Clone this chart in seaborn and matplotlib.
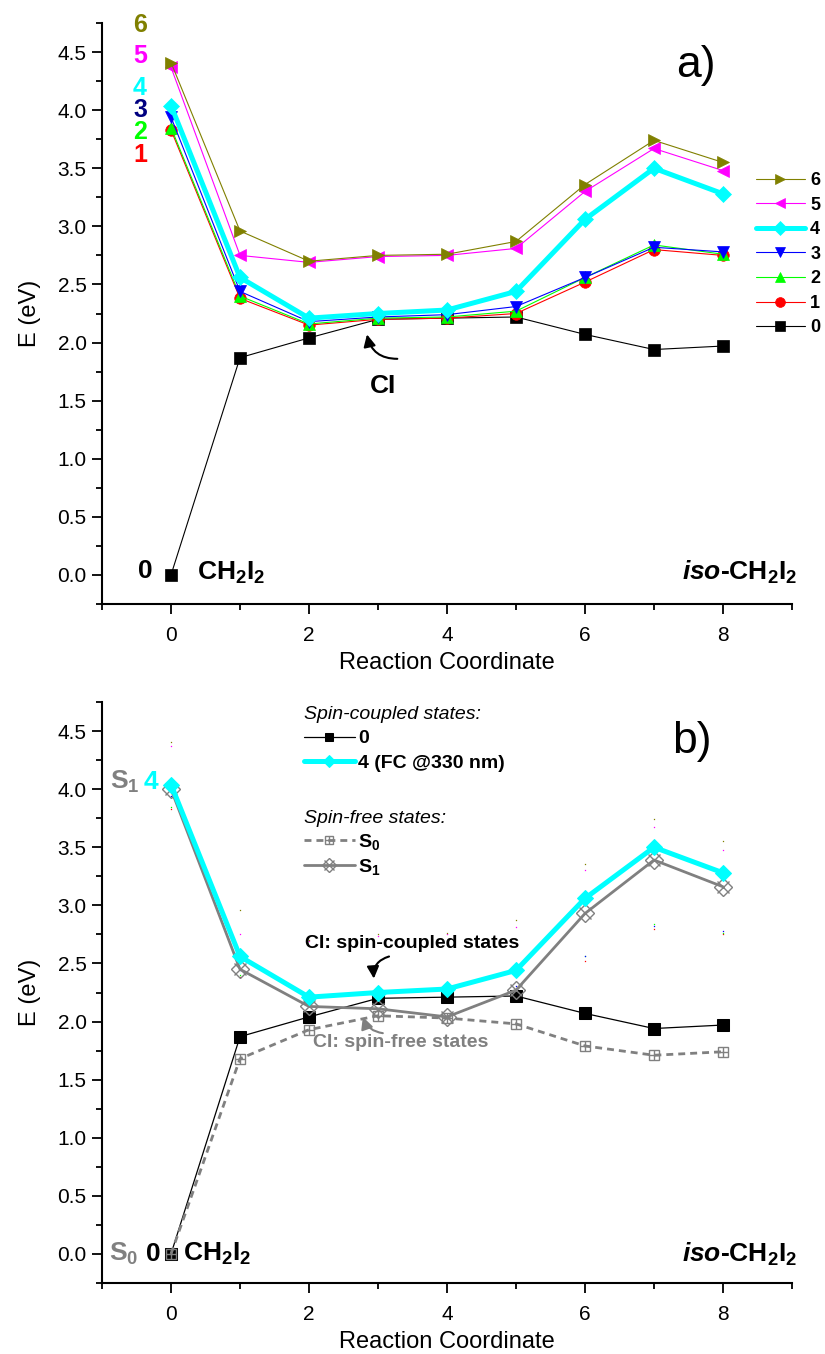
import numpy as np
import pandas as pd
import matplotlib
matplotlib.use("Agg")
import matplotlib.pyplot as plt
import seaborn as sns
from matplotlib.ticker import MultipleLocator, FormatStrFormatter
from matplotlib.legend_handler import HandlerTuple

# ---------------- data ----------------
coord = [0, 1, 2, 3, 4, 5, 6, 7, 8]
state0 = [0.00, 1.87, 2.04, 2.20, 2.21, 2.22, 2.07, 1.94, 1.97]
state1 = [3.83, 2.38, 2.15, 2.20, 2.21, 2.25, 2.52, 2.80, 2.75]
state2 = [3.85, 2.40, 2.16, 2.21, 2.22, 2.27, 2.56, 2.84, 2.76]
state3 = [3.94, 2.44, 2.18, 2.22, 2.24, 2.31, 2.56, 2.82, 2.78]
state4 = [4.04, 2.56, 2.21, 2.25, 2.28, 2.44, 3.06, 3.50, 3.28]
state5 = [4.37, 2.75, 2.69, 2.74, 2.75, 2.81, 3.30, 3.67, 3.48]
state6 = [4.41, 2.96, 2.70, 2.75, 2.76, 2.87, 3.36, 3.74, 3.55]
S0 = [0.00, 1.68, 1.93, 2.05, 2.03, 1.98, 1.79, 1.71, 1.74]
S1 = [4.00, 2.45, 2.13, 2.11, 2.04, 2.27, 2.93, 3.39, 3.16]

state_names = ["0", "1", "2", "3", "4", "5", "6"]
state_values = [state0, state1, state2, state3, state4, state5, state6]
state_colors = ["#000000", "#FF0000", "#00FF00", "#0000FF", "#00FFFF", "#FF00FF", "#808000"]
state_label_colors = ["#000000", "#FF0000", "#00FF00", "#000080", "#00FFFF", "#FF00FF", "#808000"]
state_markers = ["s", "o", "^", "v", "D", "<", ">"]

# ---------------- style ----------------
sns.set_theme(style="ticks")
plt.rcParams["font.family"] = ["Liberation Sans", "DejaVu Sans"]
plt.rcParams["text.color"] = "black"
plt.rcParams["axes.labelcolor"] = "black"
plt.rcParams["xtick.color"] = "black"
plt.rcParams["ytick.color"] = "black"
plt.rcParams["xtick.labelcolor"] = "black"
plt.rcParams["ytick.labelcolor"] = "black"
plt.rcParams["mathtext.fontset"] = "custom"
plt.rcParams["mathtext.rm"] = "Liberation Sans:bold"
plt.rcParams["mathtext.bf"] = "Liberation Sans:bold"
plt.rcParams["mathtext.it"] = "Liberation Sans:italic:bold"
plt.rcParams["mathtext.sf"] = "Liberation Sans:bold"

W, H = 825, 1354
fig = plt.figure(figsize=(W / 100, H / 100), dpi=100)
left, width = 102 / W, 690 / W
hgt = 581 / H
ax_a = fig.add_axes([left, 1 - 604 / H, width, hgt])
ax_b = fig.add_axes([left, 1 - 1283 / H, width, hgt])


def style_axes(ax):
    ax.set_xlim(-1, 9)
    ax.set_ylim(-0.25, 4.75)
    ax.xaxis.set_major_locator(MultipleLocator(2))
    ax.xaxis.set_minor_locator(MultipleLocator(1))
    ax.yaxis.set_major_locator(MultipleLocator(0.5))
    ax.yaxis.set_minor_locator(MultipleLocator(0.25))
    ax.yaxis.set_major_formatter(FormatStrFormatter("%.1f"))
    for s in ["top", "right"]:
        ax.spines[s].set_visible(False)
    for s in ["left", "bottom"]:
        ax.spines[s].set_linewidth(1.5)
        ax.spines[s].set_color("black")
    ax.tick_params(which="major", length=7, width=1.3, direction="out",
                   labelsize=15, colors="black", pad=4)
    ax.tick_params(axis="x", which="major", pad=9)
    ax.tick_params(which="minor", length=4, width=1.3, direction="out", colors="black")
    ax.set_xlabel("Reaction Coordinate", fontsize=17, labelpad=5, color="black")
    ax.set_ylabel("E (eV)", fontsize=17, labelpad=12, color="black")
    ax.grid(False)
    ax.set_facecolor("white")


# ---------------- panel a ----------------
handles_a = []
for name, vals, col, mk in zip(state_names, state_values, state_colors, state_markers):
    lw = 3.6 if name == "4" else 0.8
    ms = 8.2 if mk == "D" else 8.3
    sns.lineplot(x=coord, y=vals, ax=ax_a, color=col, marker=mk, markersize=ms,
                 markeredgecolor=col, markerfacecolor=col, markeredgewidth=0.5,
                 linewidth=lw, label=name, legend=False)
    handles_a.append(ax_a.lines[-1])

style_axes(ax_a)

leg_a = ax_a.legend(handles_a[::-1], state_names[::-1], loc="upper left",
                    bbox_to_anchor=(756 / W, 1 - 172 / H), bbox_transform=fig.transFigure,
                    frameon=False, numpoints=1, handlelength=2.7, handletextpad=0.3,
                    labelspacing=0.42, borderpad=0, borderaxespad=0,
                    prop={"size": 13, "weight": "bold"}, markerscale=0.85)

# state numbers at left
label_y = [None, 3.61, 3.81, 4.00, 4.19, 4.47, 4.73]
for i in range(1, 7):
    ax_a.text(-0.45, label_y[i], state_names[i], color=state_label_colors[i],
              fontsize=18, fontweight="bold", ha="center", va="center")

ax_a.text(-0.37, 0.03, "0", fontsize=19, fontweight="bold", ha="center", va="center")
ax_a.text(0.38, 0.02, r"CH$_2$I$_2$", fontsize=19, fontweight="bold", ha="left", va="center")
ax_a.text(9.08, 0.02, r"$\mathit{iso}$-CH$_2$I$_2$", fontsize=19, fontweight="bold",
          ha="right", va="center")
ax_a.text(7.6, 4.38, "a)", fontsize=32, ha="center", va="center")

ax_a.annotate("", xy=(2.84, 2.07), xytext=(3.28, 1.86),
              arrowprops=dict(arrowstyle="-|>,head_length=0.6,head_width=0.3",
                              color="black", lw=1.5, shrinkA=0, shrinkB=0,
                              connectionstyle="arc3,rad=-0.4"))
ax_a.text(3.07, 1.63, "CI", fontsize=19, fontweight="bold", ha="center", va="center")

# ---------------- panel b ----------------
# faint remnants of other spin-coupled states
for name, vals, col in zip(state_names, state_values, state_colors):
    if name in ("1", "2", "3", "5", "6"):
        sns.lineplot(x=coord, y=vals, ax=ax_b, color=col, marker="s", markersize=0.9,
                     markeredgewidth=0, linestyle="none", legend=False)

sns.lineplot(x=coord, y=state0, ax=ax_b, color="black", marker="s", markersize=8.6,
             markeredgecolor="black", markerfacecolor="black", linewidth=0.9,
             label="0", legend=False)
h0 = ax_b.lines[-1]

sns.lineplot(x=coord, y=S0, ax=ax_b, color="#808080", marker="s", markersize=7.5,
             markeredgecolor="#808080", markerfacecolor="none", markeredgewidth=1.0,
             linewidth=2.0, linestyle=(0, (2.5, 1.8)), legend=False)
hs0a = ax_b.lines[-1]
sns.lineplot(x=coord, y=S0, ax=ax_b, color="#808080", marker="+", markersize=7.5,
             markeredgecolor="#808080", markeredgewidth=1.0, linestyle="none",
             legend=False)
hs0b = ax_b.lines[-1]

sns.lineplot(x=coord, y=S1, ax=ax_b, color="#808080", marker="D", markersize=9,
             markeredgecolor="#808080", markerfacecolor="none", markeredgewidth=1.0,
             linewidth=2.0, legend=False)
hs1a = ax_b.lines[-1]
sns.lineplot(x=coord, y=S1, ax=ax_b, color="#808080", marker="x", markersize=9,
             markeredgecolor="#808080", markeredgewidth=1.0, linestyle="none",
             legend=False)
hs1b = ax_b.lines[-1]

sns.lineplot(x=coord, y=state4, ax=ax_b, color="#00FFFF", marker="D", markersize=8.4,
             markeredgecolor="#00FFFF", markerfacecolor="#00FFFF", linewidth=3.6,
             label="4", legend=False)
h4 = ax_b.lines[-1]

style_axes(ax_b)

leg1 = ax_b.legend([h0, h4], ["0", "4 (FC @330 nm)"], loc="upper left",
                   bbox_to_anchor=(304 / W, 1 - 706 / H), bbox_transform=fig.transFigure,
                   frameon=False, numpoints=1, handlelength=2.6, handletextpad=0.2,
                   labelspacing=0.35, borderpad=0, borderaxespad=0,
                   prop={"size": 14, "weight": "bold"}, markerscale=0.75,
                   title="Spin-coupled states:", alignment="left",
                   title_fontproperties={"size": 14, "style": "italic"})
ax_b.add_artist(leg1)
leg2 = ax_b.legend([(hs0a, hs0b), (hs1a, hs1b)], [r"S$_0$", r"S$_1$"], loc="upper left",
                   bbox_to_anchor=(304 / W, 1 - 810 / H), bbox_transform=fig.transFigure,
                   frameon=False, numpoints=1, handlelength=2.6, handletextpad=0.2,
                   labelspacing=0.25, borderpad=0, borderaxespad=0,
                   prop={"size": 14, "weight": "bold"}, markerscale=0.75,
                   handler_map={tuple: HandlerTuple(ndivide=1)},
                   title="Spin-free states:", alignment="left",
                   title_fontproperties={"size": 14, "style": "italic"})

ax_b.text(-0.45, 4.06, r"S$_1$", color="#808080", fontsize=19, fontweight="bold",
          ha="right", va="center")
ax_b.text(-0.29, 4.06, "4", color="#00FFFF", fontsize=19, fontweight="bold",
          ha="center", va="center")
ax_b.text(-0.47, 0.0, r"S$_0$", color="#808080", fontsize=19, fontweight="bold",
          ha="right", va="center")
ax_b.text(-0.26, 0.0, "0", color="black", fontsize=19, fontweight="bold",
          ha="center", va="center")
ax_b.text(0.17, 0.0, r"CH$_2$I$_2$", fontsize=19, fontweight="bold", ha="left", va="center")
ax_b.text(9.08, 0.0, r"$\mathit{iso}$-CH$_2$I$_2$", fontsize=19, fontweight="bold",
          ha="right", va="center")
ax_b.text(7.55, 4.41, "b)", fontsize=32, ha="center", va="center")

ax_b.text(3.5, 2.67, "CI: spin-coupled states", fontsize=14, fontweight="bold",
          ha="center", va="center")
ax_b.annotate("", xy=(2.94, 2.37), xytext=(3.16, 2.56),
              arrowprops=dict(arrowstyle="-|>,head_length=0.6,head_width=0.3",
                              color="black", lw=1.5, shrinkA=0, shrinkB=0,
                              connectionstyle="arc3,rad=0.4"))
ax_b.text(3.33, 1.82, "CI: spin-free states", fontsize=14, fontweight="bold",
          color="#808080", ha="center", va="center")
ax_b.annotate("", xy=(2.78, 2.04), xytext=(3.07, 1.90),
              arrowprops=dict(arrowstyle="-|>,head_length=0.6,head_width=0.3",
                              color="#808080", lw=1.5, shrinkA=0, shrinkB=0,
                              connectionstyle="arc3,rad=-0.3"))

fig.savefig("out.png", dpi=100, facecolor="white")
